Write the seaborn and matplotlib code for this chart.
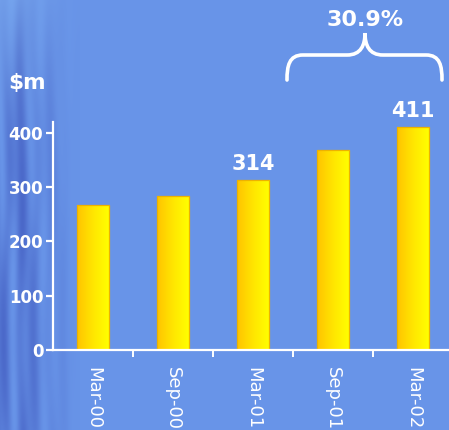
import numpy as np
import pandas as pd
import matplotlib
matplotlib.use("Agg")
import matplotlib.pyplot as plt
import matplotlib.transforms as mtransforms
from matplotlib.path import Path
from matplotlib.patches import PathPatch
from matplotlib.colors import LinearSegmentedColormap
import seaborn as sns

# Half-yearly revenue, $m
periods = ["Mar-00", "Sep-00", "Mar-01", "Sep-01", "Mar-02"]
revenue = [267, 284, 314, 369, 411]
labelled_periods = ["Mar-01", "Mar-02"]
growth_label = "30.9%"
y_ticks = [0, 100, 200, 300, 400]

sns.set_style("ticks")
plt.rcParams["font.family"] = ["DejaVu Sans"]

BG = np.array([104, 148, 232]) / 255.0
W_PX, H_PX = 449, 430

fig = plt.figure(figsize=(W_PX / 100, H_PX / 100), dpi=100)
fig.patch.set_facecolor(BG)

# Background: flat blue with soft, wavy darker streaks fading out from the left edge
yy, xx = np.mgrid[0:H_PX, 0:W_PX].astype(float)
fade = np.clip((80 - xx) / 62.0, 0, 1) ** 1.2
streak = (0.6 * np.sin(xx * 0.19 + 1.4 * np.sin(yy / 75.0))
          + 0.4 * np.sin(xx * 0.43 + 2.0 + 0.9 * np.sin(yy / 48.0 + 1.0)))
streak = (streak + 1) / 2
dark = np.array([72, 100, 198]) / 255.0
light = np.array([122, 170, 240]) / 255.0
top_mix = (np.clip(1 - yy / 170.0, 0, 1) ** 1.5)[..., None]
left_col = dark[None, None, :] * (1 - streak[..., None]) + BG[None, None, :] * streak[..., None]
left_col = left_col * (1 - top_mix * 0.7) + light[None, None, :] * top_mix * 0.7
img = BG[None, None, :] * (1 - fade[..., None]) + left_col * fade[..., None]
bg_ax = fig.add_axes([0, 0, 1, 1], zorder=-1)
bg_ax.imshow(np.clip(img, 0, 1), aspect="auto", extent=[0, 1, 0, 1],
             interpolation="bilinear")
bg_ax.axis("off")

ax = fig.add_axes([53 / W_PX, 80 / H_PX, 400 / W_PX, 228 / H_PX])
ax.set_facecolor("none")

df = pd.DataFrame({"period": periods, "revenue": revenue})
sns.barplot(data=df, x="period", y="revenue", width=0.4, ax=ax,
            color="#FFE000", saturation=1, edgecolor="none")

# Horizontal orange-to-yellow gradient inside each bar
grad_cmap = LinearSegmentedColormap.from_list("gold", ["#FFC400", "#FFE600", "#FFFF00"])
gradient = np.linspace(0, 1, 64)[None, :]
for bar in list(ax.patches):
    x0, w, h = bar.get_x(), bar.get_width(), bar.get_height()
    im = ax.imshow(gradient, extent=[x0, x0 + w, 0, h], aspect="auto",
                   cmap=grad_cmap, zorder=2, interpolation="bilinear")
    im.set_clip_path(bar)
    bar.set_facecolor("none")
    bar.set_edgecolor("#EDB200")
    bar.set_linewidth(0.9)
    bar.set_zorder(3)
ax.set_xlim(-0.5, 4.5)
ax.set_ylim(0, 420)
ax.set_aspect("auto")

# Axes styling
for side in ["top", "right"]:
    ax.spines[side].set_visible(False)
for side in ["left", "bottom"]:
    ax.spines[side].set_color("white")
    ax.spines[side].set_linewidth(1.6)
    ax.spines[side].set_zorder(4)

ax.set_yticks(y_ticks)
ax.tick_params(axis="y", colors="white", length=5, width=1.6, pad=2,
               labelsize=12)
for t in ax.get_yticklabels():
    t.set_fontweight("bold")
ax.set_xticks(range(len(periods)))
ax.set_xticks([i + 0.5 for i in range(len(periods) - 1)], minor=True)
ax.tick_params(axis="x", which="major", length=0, pad=12, colors="white",
               labelsize=13, labelrotation=270)
ax.tick_params(axis="x", which="minor", length=5, width=1.4, color="white")
for t in ax.get_xticklabels():
    t.set_verticalalignment("top")
    t.set_horizontalalignment("center")
ax.set_xlabel("")
ax.set_ylabel("")

# Value labels on selected bars
for i, (p, v) in enumerate(zip(periods, revenue)):
    if p in labelled_periods:
        ax.annotate(str(v), (i, v), xytext=(0, 4),
                    textcoords="offset points", ha="center", va="bottom",
                    color="white", fontsize=15, fontweight="bold")

# Unit label
fig.text(8 / W_PX, 1 - 83 / H_PX, "$m", color="white", fontsize=15.5,
         fontweight="bold", ha="left", va="center")

# Growth brace spanning the last two periods (figure pixel coordinates, y down)
px = mtransforms.Affine2D().scale(1 / W_PX, -1 / H_PX).translate(0, 1) + fig.transFigure
L, C, R = 287, 365, 442
y_end, y_flat, y_tip = 80, 55, 33
verts = [
    (L, y_end), (L, y_end - 14), (L + 2, y_flat), (L + 16, y_flat),
    (C - 18, y_flat), (C - 4, y_flat), (C, y_flat - 10), (C, y_tip),
    (C, y_flat - 10), (C + 4, y_flat), (C + 18, y_flat),
    (R - 16, y_flat), (R - 2, y_flat), (R, y_end - 14), (R, y_end),
]
codes = [Path.MOVETO, Path.CURVE4, Path.CURVE4, Path.CURVE4,
         Path.LINETO, Path.CURVE4, Path.CURVE4, Path.CURVE4,
         Path.CURVE4, Path.CURVE4, Path.CURVE4,
         Path.LINETO, Path.CURVE4, Path.CURVE4, Path.CURVE4]
brace = PathPatch(Path(verts, codes), transform=px, facecolor="none",
                  edgecolor="white", linewidth=2.6, capstyle="round")
fig.add_artist(brace)
fig.text(C / W_PX, 1 - 20 / H_PX, growth_label,
         color="white", fontsize=16, fontweight="bold", ha="center", va="center")

fig.savefig("out.png", dpi=100, facecolor=fig.get_facecolor())
